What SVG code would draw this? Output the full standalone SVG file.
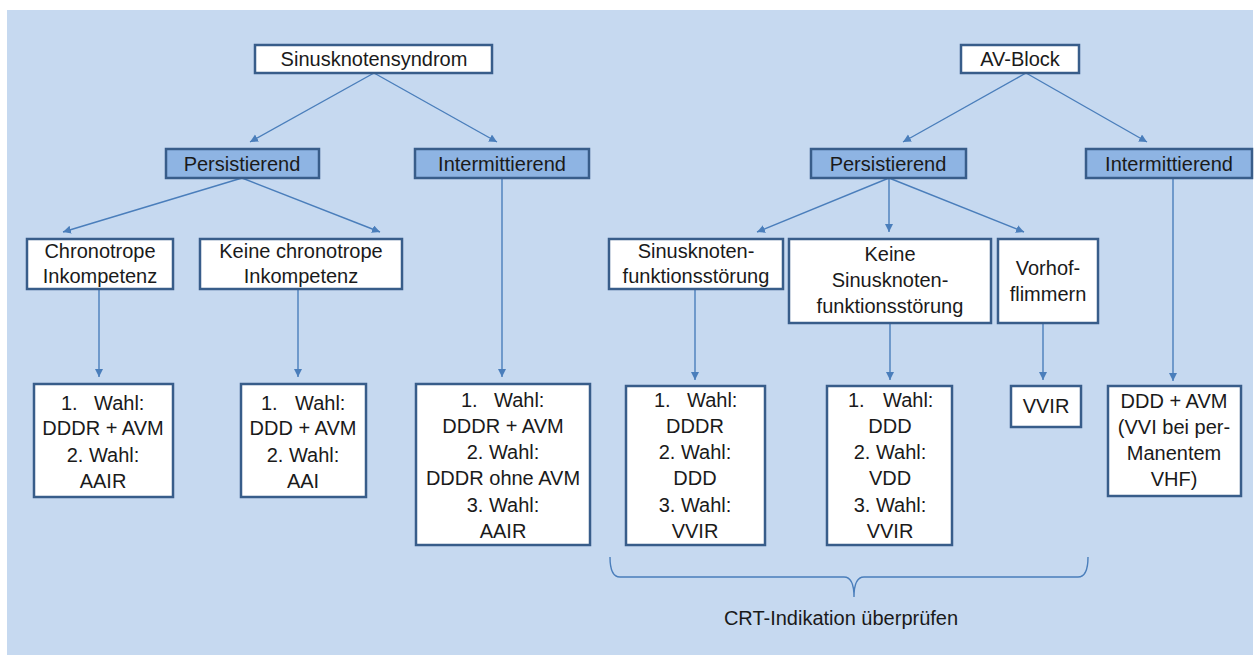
<svg xmlns="http://www.w3.org/2000/svg" width="1256" height="655" viewBox="0 0 1256 655">
<defs>
<marker id="ah" markerUnits="userSpaceOnUse" markerWidth="9" markerHeight="9" refX="8" refY="4" orient="auto">
<path d="M0,0 L8,4 L0,8 z" fill="#4a7ebb"/>
</marker>
<style>
.box{fill:#ffffff;stroke:#385d8a;stroke-width:2.5}
.hd{fill:#8eb4e3;stroke:#385d8a;stroke-width:2.5}
.t{font-family:"Liberation Sans",Arial,sans-serif;font-size:20px;fill:#1a1a1a;text-anchor:middle}
.tl{font-family:"Liberation Sans",Arial,sans-serif;font-size:20px;fill:#1a1a1a}
.c{stroke:#4a7ebb;stroke-width:1.4;fill:none}
.a{stroke:#4a7ebb;stroke-width:1.4;fill:none;marker-end:url(#ah)}
</style>
</defs>
<rect x="7" y="10" width="1246" height="645" fill="#c6d9f0"/>

<g id="connectors">
<line class="a" x1="374" y1="73" x2="250" y2="142"/>
<line class="a" x1="374" y1="73" x2="497" y2="142"/>
<line class="a" x1="1026" y1="73" x2="903" y2="142"/>
<line class="a" x1="1026" y1="73" x2="1147" y2="142"/>
<line class="a" x1="242" y1="178" x2="63" y2="232"/>
<line class="a" x1="242" y1="178" x2="380" y2="232"/>
<line class="a" x1="889" y1="178" x2="757" y2="232"/>
<line class="a" x1="889" y1="178" x2="889" y2="232"/>
<line class="a" x1="889" y1="178" x2="1024" y2="232"/>
<line class="a" x1="99" y1="289" x2="99" y2="377"/>
<line class="a" x1="298" y1="289" x2="298" y2="377"/>
<line class="a" x1="502" y1="178" x2="502" y2="377"/>
<line class="a" x1="695" y1="289" x2="695" y2="380"/>
<line class="a" x1="890" y1="323" x2="890" y2="380"/>
<line class="a" x1="1043" y1="323" x2="1043" y2="380"/>
<line class="a" x1="1173" y1="178" x2="1173" y2="381"/>
<path class="c" d="M610,557 Q610,577 620,577 L844,577 Q854,577 854,597 Q854,577 864,577 L1078,577 Q1088,577 1088,557"/>
</g>

<g id="n-sinus">
<rect class="box" x="255" y="45" width="237" height="28"/>
<text class="t" x="374" y="66">Sinusknotensyndrom</text>
</g>
<g id="n-av">
<rect class="box" x="961" y="45" width="118" height="28"/>
<text class="t" x="1020" y="66">AV-Block</text>
</g>
<g id="n-pers-l">
<rect class="hd" x="166" y="149" width="153" height="29"/>
<text class="t" x="242" y="171">Persistierend</text>
</g>
<g id="n-int-l">
<rect class="hd" x="415" y="149" width="174" height="29"/>
<text class="t" x="502" y="171">Intermittierend</text>
</g>
<g id="n-pers-r">
<rect class="hd" x="811" y="149" width="155" height="29"/>
<text class="t" x="888" y="171">Persistierend</text>
</g>
<g id="n-int-r">
<rect class="hd" x="1086" y="149" width="166" height="29"/>
<text class="t" x="1169" y="171">Intermittierend</text>
</g>
<g id="n-chrono">
<rect class="box" x="27" y="239" width="146" height="50"/>
<text class="t" x="100" y="258">Chronotrope</text>
<text class="t" x="100" y="283">Inkompetenz</text>
</g>
<g id="n-keine-chrono">
<rect class="box" x="200" y="239" width="202" height="50"/>
<text class="t" x="301" y="258">Keine chronotrope</text>
<text class="t" x="301" y="283">Inkompetenz</text>
</g>
<g id="n-snfs">
<rect class="box" x="609" y="239" width="174" height="50"/>
<text class="t" x="696" y="258">Sinusknoten-</text>
<text class="t" x="696" y="283">funktionsstörung</text>
</g>
<g id="n-keine-snfs">
<rect class="box" x="789" y="239" width="202" height="84"/>
<text class="t" x="890" y="261">Keine</text>
<text class="t" x="890" y="287">Sinusknoten-</text>
<text class="t" x="890" y="313">funktionsstörung</text>
</g>
<g id="n-vhf">
<rect class="box" x="998" y="239" width="100" height="84"/>
<text class="t" x="1048" y="275">Vorhof-</text>
<text class="t" x="1048" y="301">flimmern</text>
</g>
<g id="n-r1">
<rect class="box" x="34" y="384" width="139" height="113"/>
<text class="tl" y="410"><tspan x="61">1.</tspan><tspan x="94">Wahl:</tspan></text>
<text class="t" x="103" y="435">DDDR + AVM</text>
<text class="t" x="103" y="462">2. Wahl:</text>
<text class="t" x="103" y="488">AAIR</text>
</g>
<g id="n-r2">
<rect class="box" x="241" y="384" width="125" height="113"/>
<text class="tl" y="410"><tspan x="261">1.</tspan><tspan x="295">Wahl:</tspan></text>
<text class="t" x="303" y="435">DDD + AVM</text>
<text class="t" x="303" y="462">2. Wahl:</text>
<text class="t" x="303" y="488">AAI</text>
</g>
<g id="n-r3">
<rect class="box" x="416" y="384" width="174" height="161"/>
<text class="tl" y="407"><tspan x="461">1.</tspan><tspan x="494">Wahl:</tspan></text>
<text class="t" x="503" y="433">DDDR + AVM</text>
<text class="t" x="503" y="459">2. Wahl:</text>
<text class="t" x="503" y="485">DDDR ohne AVM</text>
<text class="t" x="503" y="512">3. Wahl:</text>
<text class="t" x="503" y="538">AAIR</text>
</g>
<g id="n-r4">
<rect class="box" x="626" y="386" width="139" height="159"/>
<text class="tl" y="407"><tspan x="654">1.</tspan><tspan x="687">Wahl:</tspan></text>
<text class="t" x="695" y="433">DDDR</text>
<text class="t" x="695" y="459">2. Wahl:</text>
<text class="t" x="695" y="485">DDD</text>
<text class="t" x="695" y="512">3. Wahl:</text>
<text class="t" x="695" y="538">VVIR</text>
</g>
<g id="n-r5">
<rect class="box" x="827" y="386" width="125" height="159"/>
<text class="tl" y="407"><tspan x="848">1.</tspan><tspan x="883">Wahl:</tspan></text>
<text class="t" x="890" y="433">DDD</text>
<text class="t" x="890" y="459">2. Wahl:</text>
<text class="t" x="890" y="485">VDD</text>
<text class="t" x="890" y="512">3. Wahl:</text>
<text class="t" x="890" y="538">VVIR</text>
</g>
<g id="n-r6">
<rect class="box" x="1011" y="386" width="70" height="41"/>
<text class="t" x="1046" y="413">VVIR</text>
</g>
<g id="n-r7">
<rect class="box" x="1108" y="386" width="133" height="110"/>
<text class="t" x="1174" y="408">DDD + AVM</text>
<text class="t" x="1174" y="434">(VVI bei per-</text>
<text class="t" x="1174" y="460">Manentem</text>
<text class="t" x="1174" y="486">VHF)</text>
</g>
<g id="n-crt">
<text class="t" x="841" y="625">CRT-Indikation überprüfen</text>
</g>
</svg>
